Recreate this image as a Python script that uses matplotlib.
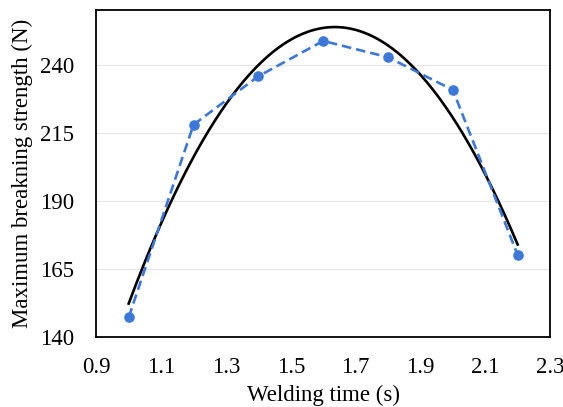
import numpy as np
from matplotlib import pyplot as plt

# measured data
welding_time = [1.0, 1.2, 1.4, 1.6, 1.8, 2.0, 2.2]
strength = [147.1, 217.9, 235.7, 248.7, 242.7, 230.7, 170.0]

x_ticks = [0.9, 1.1, 1.3, 1.5, 1.7, 1.9, 2.1, 2.3]
y_ticks = [140, 165, 190, 215, 240]

plt.rcParams['font.family'] = ['Liberation Serif', 'DejaVu Serif']

fig = plt.figure(figsize=(5.63, 4.07), dpi=100)
ax = fig.add_axes([0.171, 0.173, 0.806, 0.802])

# quadratic fit (black solid)
coef = np.polyfit(welding_time, strength, 2)
xf = np.linspace(min(welding_time), max(welding_time), 200)
ax.plot(xf, np.polyval(coef, xf), color='black', lw=1.9, zorder=3)

ax.plot(welding_time, strength, color='#3B78D8', ls='--', lw=1.9,
        dashes=(3.6, 1.9), marker='o', ms=6.6, zorder=4)

ax.set_xlim(0.9, 2.3)
ax.set_ylim(140, 260)
ax.set_xticks(x_ticks)
ax.set_xticklabels([f'{v:.1f}' for v in x_ticks])
ax.set_yticks(y_ticks)
ax.grid(axis='y', color='#e6e6e6', lw=0.8)
ax.set_axisbelow(True)
ax.tick_params(length=0, labelsize=16.5)
ax.tick_params(axis='x', pad=15)
ax.tick_params(axis='y', pad=16)
for s in ax.spines.values():
    s.set_linewidth(1.3)

ax.set_xlabel('Welding time (s)', fontsize=16.5, labelpad=4.5)
ax.set_ylabel('Maximum breakning strength (N)', fontsize=16.5, labelpad=5)

fig.savefig('out.png', dpi=100)
